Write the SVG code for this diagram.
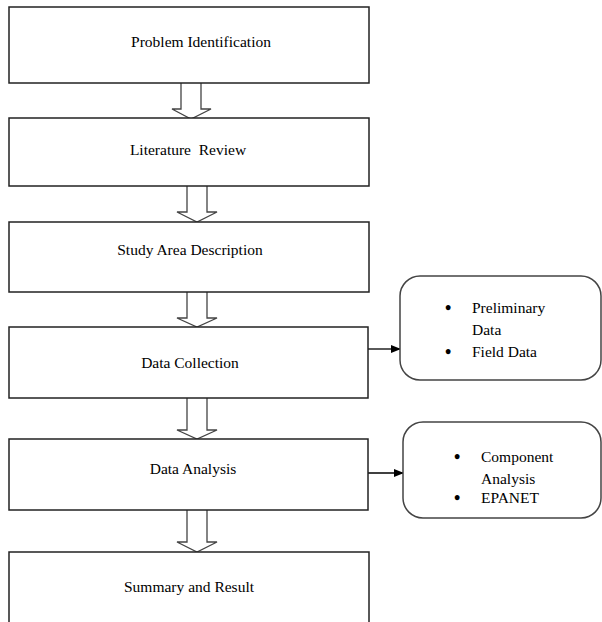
<svg xmlns="http://www.w3.org/2000/svg" width="602" height="622" viewBox="0 0 602 622">
<defs>
<marker id="ah" markerWidth="10" markerHeight="8" refX="9" refY="4" orient="auto" markerUnits="userSpaceOnUse">
<path d="M0,0 L10,4 L0,8 Z" fill="#000"/>
</marker>
</defs>
<style>
.box{fill:#fff;stroke:#222;stroke-width:1.5}
.side{fill:#fff;stroke:#444;stroke-width:1.5}
.hol{fill:#fff;stroke:#444;stroke-width:1.3}
text{font-family:'Liberation Serif','Times New Roman','DejaVu Serif',serif;font-size:15.5px;fill:#000}
.lbl{text-anchor:middle}
.dot{font-size:18px;font-weight:bold}
.line{stroke:#000;stroke-width:1.3;fill:none}
</style>
<rect width="602" height="622" fill="#fff"/>
<g id="connectors">
<path class="hol" d="M181,83 V109 H172 L191,119 L211,109 H201 V83"/>
<path class="hol" d="M187,186 V212 H177 L197,222 L217,212 H207 V186"/>
<path class="hol" d="M187,292 V318 H177 L197,327 L217,318 H207 V292"/>
<path class="hol" d="M187,398 V430 H177 L197,439 L217,430 H207 V398"/>
<path class="hol" d="M187,510 V542 H177 L197,552 L217,542 H207 V510"/>
<line class="line" x1="368" y1="349" x2="400" y2="349" marker-end="url(#ah)"/>
<line class="line" x1="368" y1="473" x2="403" y2="473" marker-end="url(#ah)"/>
</g>
<g id="n1"><rect class="box" x="9" y="7" width="360" height="76"/><text class="lbl" x="201" y="47">Problem Identification</text></g>
<g id="n2"><rect class="box" x="9" y="118" width="360" height="68"/><text class="lbl" x="188" y="155">Literature&#160; Review</text></g>
<g id="n3"><rect class="box" x="9" y="222" width="360" height="70"/><text class="lbl" x="190" y="255">Study Area Description</text></g>
<g id="n4"><rect class="box" x="9" y="327" width="359" height="71"/><text class="lbl" x="190" y="368">Data Collection</text></g>
<g id="n5"><rect class="box" x="9" y="439" width="359" height="71"/><text class="lbl" x="193" y="474">Data Analysis</text></g>
<g id="n6"><rect class="box" x="9" y="552" width="360" height="80"/><text class="lbl" x="189" y="592">Summary and Result</text></g>
<g id="s1"><rect class="side" x="400" y="276" width="201" height="104" rx="20" ry="20"/>
<text class="dot" x="445" y="314">•</text><text x="472" y="313">Preliminary</text>
<text x="472" y="335">Data</text>
<text class="dot" x="445" y="358">•</text><text x="472" y="357">Field Data</text></g>
<g id="s2"><rect class="side" x="403" y="422" width="198" height="96" rx="20" ry="20"/>
<text class="dot" x="454" y="463">•</text><text x="481" y="462">Component</text>
<text x="481" y="484">Analysis</text>
<text class="dot" x="454" y="504">•</text><text x="481" y="503">EPANET</text></g>
</svg>
